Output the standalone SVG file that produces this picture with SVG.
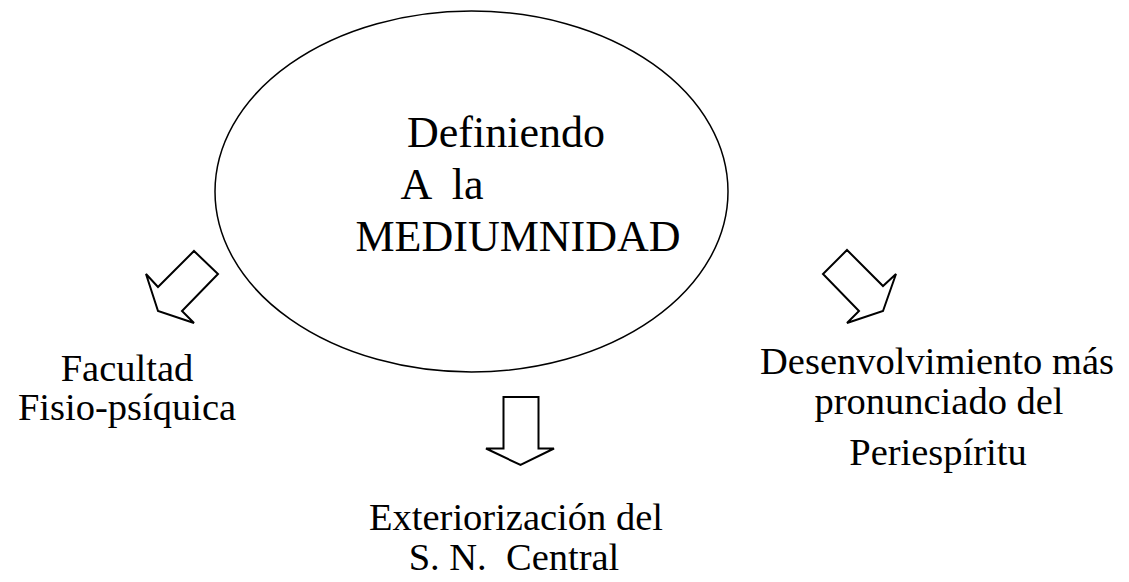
<svg xmlns="http://www.w3.org/2000/svg" width="1129" height="582" viewBox="0 0 1129 582">
<style>
.t{font-family:"Liberation Serif","Times New Roman",serif;fill:#000;text-anchor:middle}
.big{font-size:44px}
.lab{font-size:38.5px}
.arr{fill:#fff;stroke:#000;stroke-width:2;stroke-linejoin:miter}
</style>
<rect width="1129" height="582" fill="#fff"/>
<g id="center">
<ellipse cx="471.5" cy="191.5" rx="256.5" ry="180.5" fill="#fff" stroke="#000" stroke-width="1.5"/>
<text class="t big" x="506" y="147">Definiendo</text>
<text class="t big" x="442" y="199" text-anchor="start" xml:space="preserve">A  la</text>
<text class="t big" x="518" y="251">MEDIUMNIDAD</text>
</g>
<g id="connectors">
<polygon class="arr" points="194,251 218,274 182,311 194,323 158,311 146,274 158,287"/>
<polygon class="arr" points="847,250 883,286 896,274 883,311 847,323 859,311 823,274"/>
<polygon class="arr" points="503.5,397 538.5,397 538.5,448.5 554,448.5 520.5,465 486,448.5 503.5,448.5"/>
</g>
<g id="left">
<text class="t lab" x="127" y="381">Facultad</text>
<text class="t lab" x="127" y="420">Fisio-psíquica</text>
</g>
<g id="right">
<text class="t lab" x="937" y="374">Desenvolvimiento más</text>
<text class="t lab" x="939" y="414">pronunciado del</text>
<text class="t lab" x="938" y="465">Periespíritu</text>
</g>
<g id="bottom">
<text class="t lab" x="516" y="530">Exteriorización del</text>
<text class="t lab" x="514" y="570" xml:space="preserve">S. N.  Central</text>
</g>
</svg>
